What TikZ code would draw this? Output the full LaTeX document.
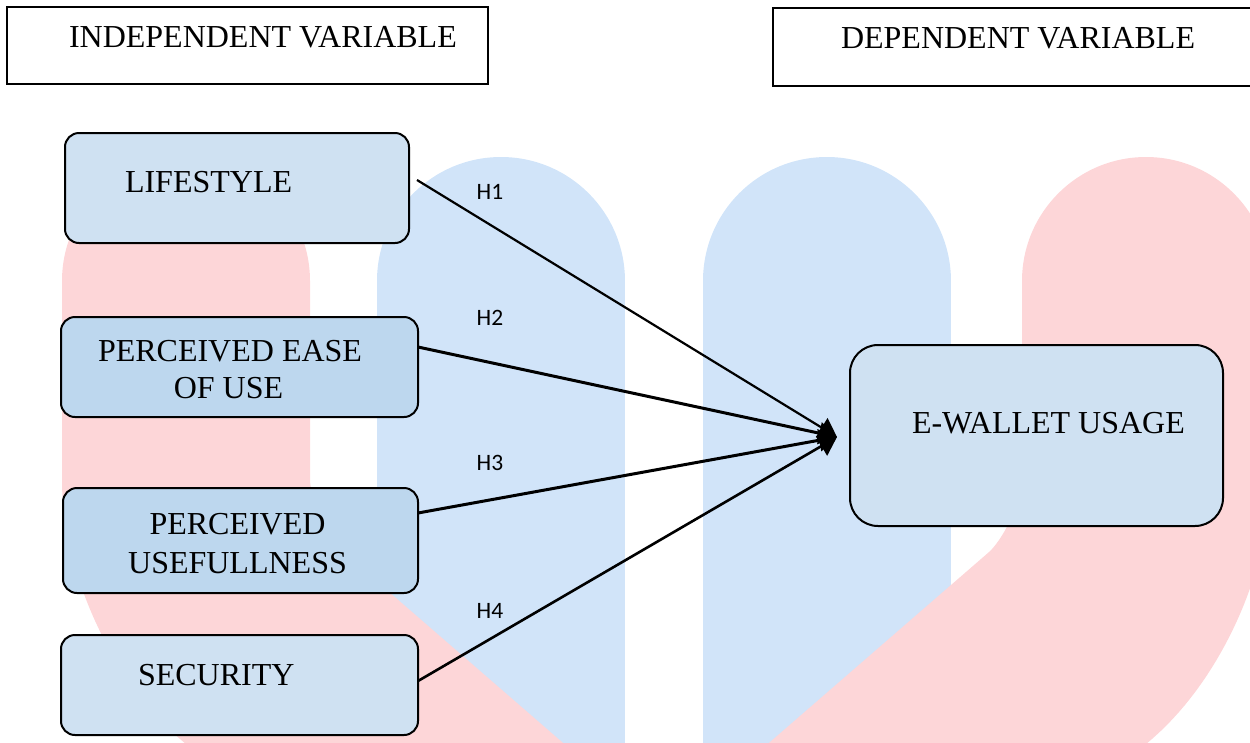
\documentclass[tikz,border=0pt]{standalone}
\usepackage{fontspec}
\setmainfont{Liberation Serif}
\newfontfamily\hfont{Carlito}
\usetikzlibrary{arrows.meta,calc}
\definecolor{bgpink}{HTML}{FDD6D8}
\definecolor{bgblue}{HTML}{D1E4F9}
\definecolor{boxlight}{HTML}{CFE1F2}
\definecolor{boxdark}{HTML}{BDD7EE}
\tikzset{
  bgband/.style={line width=248pt, line cap=round, rounded corners=100pt},
  varbox/.style={draw=black, line width=2pt, rounded corners=14pt, inner sep=0pt, outer sep=0pt},
  headbox/.style={draw=black, line width=2.5pt, fill=white, inner sep=0pt, outer sep=0pt},
  lbl/.style={inner sep=0pt, outer sep=0pt, anchor=base west, font=\fontsize{32}{38}\selectfont},
  lblc/.style={inner sep=0pt, outer sep=0pt, anchor=base, font=\fontsize{32}{38}\selectfont},
  hyp/.style={inner sep=0pt, font=\hfont\fontsize{23.5}{28}\selectfont},
  conn/.style={draw=black, line width=2.6pt, -{Triangle[length=18pt,width=22pt]}}
}
\begin{document}
\begin{tikzpicture}[x=1pt,y=-1pt]
\useasboundingbox (0,0) rectangle (1250,742);
\clip (0,0) rectangle (1250,742);
% background watermark
\draw[bgband, draw=bgblue] (501,281) -- (501,900);
\draw[bgband, draw=bgblue] (826.5,281) -- (826.5,900);
\draw[bgband, draw=bgpink] (186,281) -- (186,580) -- (488,842);
\draw[bgband, draw=bgpink] (1146,281) -- (1146,580) -- (844,842);
% header boxes
\node[headbox, minimum width=481pt, minimum height=77pt] (indep) at (247.5,45.5) {};
\node[headbox, minimum width=489pt, minimum height=78pt] (dep) at (1017.5,47) {};
\node[lbl] (indeptxt) at (69,47) {INDEPENDENT VARIABLE};
\node[lbl] (deptxt) at (841,48) {DEPENDENT VARIABLE};
% variable boxes
\node[varbox, fill=boxlight, minimum width=344pt, minimum height=110pt] (life) at (237,188) {};
\node[varbox, fill=boxdark, minimum width=357pt, minimum height=100pt] (ease) at (239.5,367) {};
\node[varbox, fill=boxdark, minimum width=355pt, minimum height=105pt] (usef) at (240.5,540.5) {};
\node[varbox, fill=boxlight, minimum width=357pt, minimum height=100pt] (sec) at (239.5,685) {};
\node[varbox, fill=boxlight, rounded corners=28pt, minimum width=373pt, minimum height=181pt] (ew) at (1036.5,435.5) {};
\node[lbl] (lifetxt) at (125,192) {LIFESTYLE};
\node[lblc] (easetxta) at (230,361) {PERCEIVED EASE};
\node[lblc] (easetxtb) at (228.5,398) {OF USE};
\node[lblc] (useftxta) at (237.5,534) {PERCEIVED};
\node[lblc] (useftxtb) at (237.5,573) {USEFULLNESS};
\node[lbl] (sectxt) at (138,685) {SECURITY};
\node[lbl] (ewtxt) at (912,433) {E-WALLET USAGE};
% connectors
\draw[conn, line width=2.2pt] ([shift={(8,-8)}]life.east) -- ([xshift=-13pt,yshift=-1.5pt]ew.west);
\draw[conn, line width=3pt] ([yshift=20pt]ease.east) -- ([xshift=-13pt,yshift=-1.5pt]ew.west);
\draw[conn, line width=3pt] ([yshift=27.5pt]usef.east) -- ([xshift=-13pt,yshift=-1.5pt]ew.west);
\draw[conn] ([yshift=4pt]sec.east) -- ([xshift=-13pt,yshift=-1.5pt]ew.west);
% hypothesis labels
\node[hyp] (h1) at (490,192) {H1};
\node[hyp] (h2) at (490,318) {H2};
\node[hyp] (h3) at (490,463) {H3};
\node[hyp] (h4) at (490,611) {H4};
\end{tikzpicture}
\end{document}
